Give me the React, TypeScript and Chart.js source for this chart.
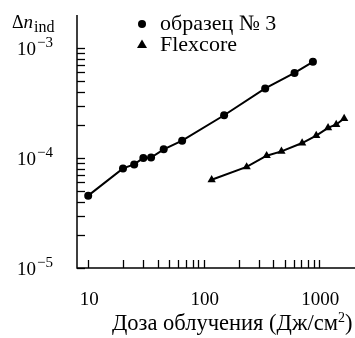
import { useEffect, useRef } from "react";
import { Chart, registerables } from "chart.js";

Chart.register(...registerables);

// Dose (J/cm^2) and induced index change for the two fibres
const sampleDose = [10, 20, 25, 30, 35, 45, 65, 150, 340, 610, 880];
const sampleDn = [4.55e-5, 8.05e-5, 8.75e-5, 1.0e-4, 1.01e-4, 1.2e-4, 1.44e-4, 2.45e-4, 4.3e-4, 5.95e-4, 7.5e-4];
const flexDose = [117, 235, 350, 470, 710, 940, 1190, 1400, 1640];
const flexDn = [6.35e-5, 8.3e-5, 1.05e-4, 1.15e-4, 1.37e-4, 1.6e-4, 1.88e-4, 2.02e-4, 2.29e-4];

const seriesNames = ["образец № 3", "Flexcore"];
const xTickLabels = [10, 100, 1000];
const yTickExponents = [-3, -4, -5];
const xTitleMain = "Доза облучения (Дж/см";
const xTitleSup = "2";
const xTitleEnd = ")";

const SERIF = `"Liberation Serif", serif`;

const axesPlugin = {
  id: "paperAxes",
  afterDraw(chart: any) {
    const { ctx, chartArea, scales } = chart;
    const xs = scales.x;
    const ys = scales.y;
    const { left, top, bottom } = chartArea;
    const right = chart.width;
    ctx.save();
    ctx.strokeStyle = "#000";
    ctx.fillStyle = "#000";
    ctx.lineWidth = 1.5;
    // axis lines
    ctx.beginPath();
    ctx.moveTo(left, top);
    ctx.lineTo(left, bottom);
    ctx.lineTo(right, bottom);
    ctx.stroke();

    const isDecadeStep = (v: number) => {
      const m = v / Math.pow(10, Math.floor(Math.log10(v) + 1e-9));
      return Math.abs(m - Math.round(m)) < 1e-6;
    };

    // inward ticks on x
    ctx.lineWidth = 1.3;
    for (const t of xs.ticks) {
      const v = t.value;
      if (v < 10 - 1e-9 || v > 1000 + 1e-9 || !isDecadeStep(v)) continue;
      const px = Math.round(xs.getPixelForValue(v)) + 0.5;
      ctx.beginPath();
      ctx.moveTo(px, bottom);
      ctx.lineTo(px, bottom - 8);
      ctx.stroke();
    }
    // inward ticks on y
    for (const t of ys.ticks) {
      const v = t.value;
      if (v < 1e-5 * 0.999 || v > 1e-3 * 1.001 || !isDecadeStep(v)) continue;
      const py = Math.round(ys.getPixelForValue(v)) + 0.5;
      ctx.beginPath();
      ctx.moveTo(left, py);
      ctx.lineTo(left + 8, py);
      ctx.stroke();
    }

    // x tick labels
    ctx.font = `19px ${SERIF}`;
    ctx.textAlign = "center";
    ctx.textBaseline = "alphabetic";
    for (const v of xTickLabels) {
      ctx.fillText(String(v), xs.getPixelForValue(v) + 1, 305);
    }

    // y tick labels 10^n
    ctx.textAlign = "left";
    for (const e of yTickExponents) {
      const py = ys.getPixelForValue(Math.pow(10, e));
      const sup = "−" + Math.abs(e);
      ctx.font = `19px ${SERIF}`;
      const wb = ctx.measureText("10").width;
      ctx.fillText("10", 36 - wb, py + 7);
      ctx.font = `15px ${SERIF}`;
      ctx.fillText(sup, 37, py - 1);
    }

    // y axis title: Δn_ind
    ctx.font = `18px ${SERIF}`;
    ctx.fillText("Δ", 12, 28);
    let x = 12 + ctx.measureText("Δ").width;
    ctx.font = `italic 19px ${SERIF}`;
    ctx.fillText("n", x, 28);
    x += ctx.measureText("n").width + 1;
    ctx.font = `16px ${SERIF}`;
    ctx.fillText("ind", x, 32);

    // x axis title
    ctx.font = `22.5px ${SERIF}`;
    let tx = 112;
    ctx.fillText(xTitleMain, tx, 330);
    tx += ctx.measureText(xTitleMain).width;
    ctx.font = `14px ${SERIF}`;
    ctx.fillText(xTitleSup, tx, 322);
    tx += ctx.measureText(xTitleSup).width;
    ctx.font = `22.5px ${SERIF}`;
    ctx.fillText(xTitleEnd, tx, 330);

    // legend
    ctx.font = `22px ${SERIF}`;
    ctx.beginPath();
    ctx.arc(142, 24, 4, 0, Math.PI * 2);
    ctx.fill();
    ctx.fillText(seriesNames[0], 160, 30);
    ctx.beginPath();
    ctx.moveTo(142, 39.5);
    ctx.lineTo(147, 48);
    ctx.lineTo(137, 48);
    ctx.closePath();
    ctx.fill();
    ctx.fillText(seriesNames[1], 160, 51);
    ctx.restore();
  },
};

export default function App() {
  const canvasRef = useRef<HTMLCanvasElement | null>(null);

  useEffect(() => {
    const canvas = canvasRef.current;
    if (!canvas) return;
    const chart = new Chart(canvas, {
      type: "line",
      data: {
        datasets: [
          {
            label: seriesNames[0],
            data: sampleDose.map((d, i) => ({ x: d, y: sampleDn[i] })),
            borderColor: "#000",
            backgroundColor: "#000",
            borderWidth: 2,
            pointStyle: "circle",
            pointRadius: 4,
            pointBorderWidth: 0,
            tension: 0,
          },
          {
            label: seriesNames[1],
            data: flexDose.map((d, i) => ({ x: d, y: flexDn[i] })),
            borderColor: "#000",
            backgroundColor: "#000",
            borderWidth: 2,
            pointStyle: "triangle",
            pointRadius: 4.8,
            pointBorderWidth: 0,
            tension: 0,
          },
        ],
      },
      options: {
        animation: false,
        responsive: false,
        devicePixelRatio: 1,
        layout: { padding: { left: 69, top: 15, right: 0, bottom: 62 } },
        plugins: { legend: { display: false }, tooltip: { enabled: false } },
        scales: {
          x: {
            type: "logarithmic",
            min: 8,
            max: 1850,
            ticks: { display: false },
            grid: { display: false },
            border: { display: false },
          },
          y: {
            type: "logarithmic",
            min: 1e-5,
            max: 2e-3,
            ticks: { display: false },
            grid: { display: false },
            border: { display: false },
          },
        },
      },
      plugins: [axesPlugin],
    });
    return () => chart.destroy();
  }, []);

  return (
    <div style={{ position: "fixed", left: 0, top: 0, width: 355, height: 338, background: "#fff" }}>
      <canvas ref={canvasRef} width={355} height={338} style={{ display: "block" }} />
    </div>
  );
}
